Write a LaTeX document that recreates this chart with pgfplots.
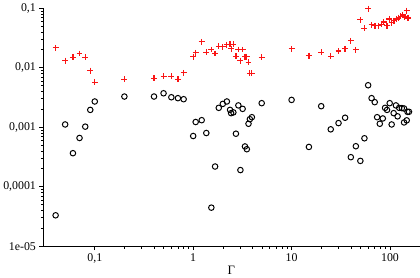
\documentclass[border=0pt]{standalone}
\usepackage{fontspec}
\setmainfont{Liberation Serif}
\usepackage{pgfplots}
\pgfplotsset{compat=1.18}
\definecolor{plusred}{RGB}{250,20,20}
\begin{document}
\begin{tikzpicture}
\begin{axis}[
  scale only axis,
  width=381pt, height=241pt,
  xmode=log, ymode=log,
  xmin=0.03, xmax=200,
  ymin=1e-5, ymax=0.1,
  axis lines=left,
  axis line style={-, black, line width=0.8pt},
  tick align=outside,
  tick style={black, line width=0.6pt},
  major tick length=4pt,
  minor tick length=2.5pt,
  xtick={0.1,1,10,100},
  xticklabels={{0,1},1,10,100},
  ytick={1e-5,1e-4,1e-3,1e-2,1e-1},
  yticklabels={1e-05,{0,0001},{0,001},{0,01},{0,1}},
  tick label style={font=\fontsize{12}{14}\selectfont},
  xlabel={Γ},
  xlabel style={font=\fontsize{13}{15}\selectfont, yshift=4pt},
  clip=false,
]
\addplot[only marks, mark=+, mark size=3pt, color=plusred, mark options={solid, line width=1.25pt}] coordinates {
(0.04,0.0216) (0.05,0.0131) (0.06,0.0149) (0.07,0.0173) (0.08,0.0149) (0.09,0.0089)
(0.1,0.0057) (0.2,0.0064) (0.4,0.0066) (0.5,0.0072) (0.6,0.0072) (0.7,0.0064) (0.8,0.0082)
(1.0,0.0153) (1.06,0.0178) (1.22,0.0272) (1.36,0.0182) (1.53,0.0202) (1.67,0.0173)
(1.82,0.0230) (2.0,0.0224) (2.2,0.0243) (2.37,0.0248) (2.43,0.0208) (2.56,0.0248)
(2.72,0.0156) (2.88,0.0202) (3.02,0.0131) (3.18,0.0202) (3.36,0.0153) (3.51,0.0153)
(3.65,0.0123) (3.77,0.0080) (3.95,0.0080) (4.97,0.0149)
(10,0.0208) (15,0.0159) (20,0.0182) (25,0.0156) (30,0.0190) (35,0.0208) (40,0.0283)
(45,0.0200) (50,0.0635) (55,0.0460) (60,0.098) (65,0.0524) (70.6,0.0504) (76.3,0.0504)
(82.5,0.0536) (86.4,0.0587) (93.3,0.0504) (98.4,0.0659) (104,0.0566) (110,0.0611)
(117.5,0.0659) (122,0.0693) (129,0.0729) (135,0.0769) (141.5,0.0713) (148,0.0908)
(152.7,0.0686)
};
\addplot[only marks, mark=o, mark size=2.8pt, draw=black, mark options={solid, draw=black, line width=1.0pt}] coordinates {
(0.04,3.3e-5) (0.05,0.00111) (0.06,0.000365) (0.07,0.000658) (0.08,0.00102) (0.09,0.00195)
(0.1,0.00270) (0.2,0.00327) (0.4,0.00327) (0.5,0.00371) (0.6,0.00318) (0.7,0.00307)
(0.8,0.00295) (1.0,0.00071) (1.06,0.00122) (1.22,0.00131) (1.36,0.000797) (1.53,4.44e-5)
(1.67,0.000218) (1.82,0.00211) (2.0,0.00246) (2.2,0.00270) (2.37,0.00195) (2.43,0.00172)
(2.56,0.00177) (2.72,0.000776) (2.88,0.00232) (3.02,0.000190) (3.18,0.00203)
(3.36,0.000474) (3.51,0.000426) (3.65,0.00114) (3.77,0.00136) (3.95,0.00147) (4.97,0.00253)
(10,0.00287) (15,0.000465) (20,0.00225) (25,0.000919) (30,0.00117) (35,0.00144)
(40,0.000313) (45,0.000478) (50,0.000271) (55,0.000650) (60,0.00506) (65,0.00307)
(70,0.00263) (74,0.00147) (78.8,0.00114) (84.5,0.00140) (89.1,0.00211) (93.3,0.00195)
(99.3,0.00253) (104,0.00111) (109,0.00172) (114.9,0.00232) (119.5,0.00152) (124,0.00211)
(132,0.00209) (139,0.00206) (139,0.00120) (148,0.00130) (150.6,0.00181) (156,0.00181)
};
\end{axis}
\end{tikzpicture}
\end{document}
